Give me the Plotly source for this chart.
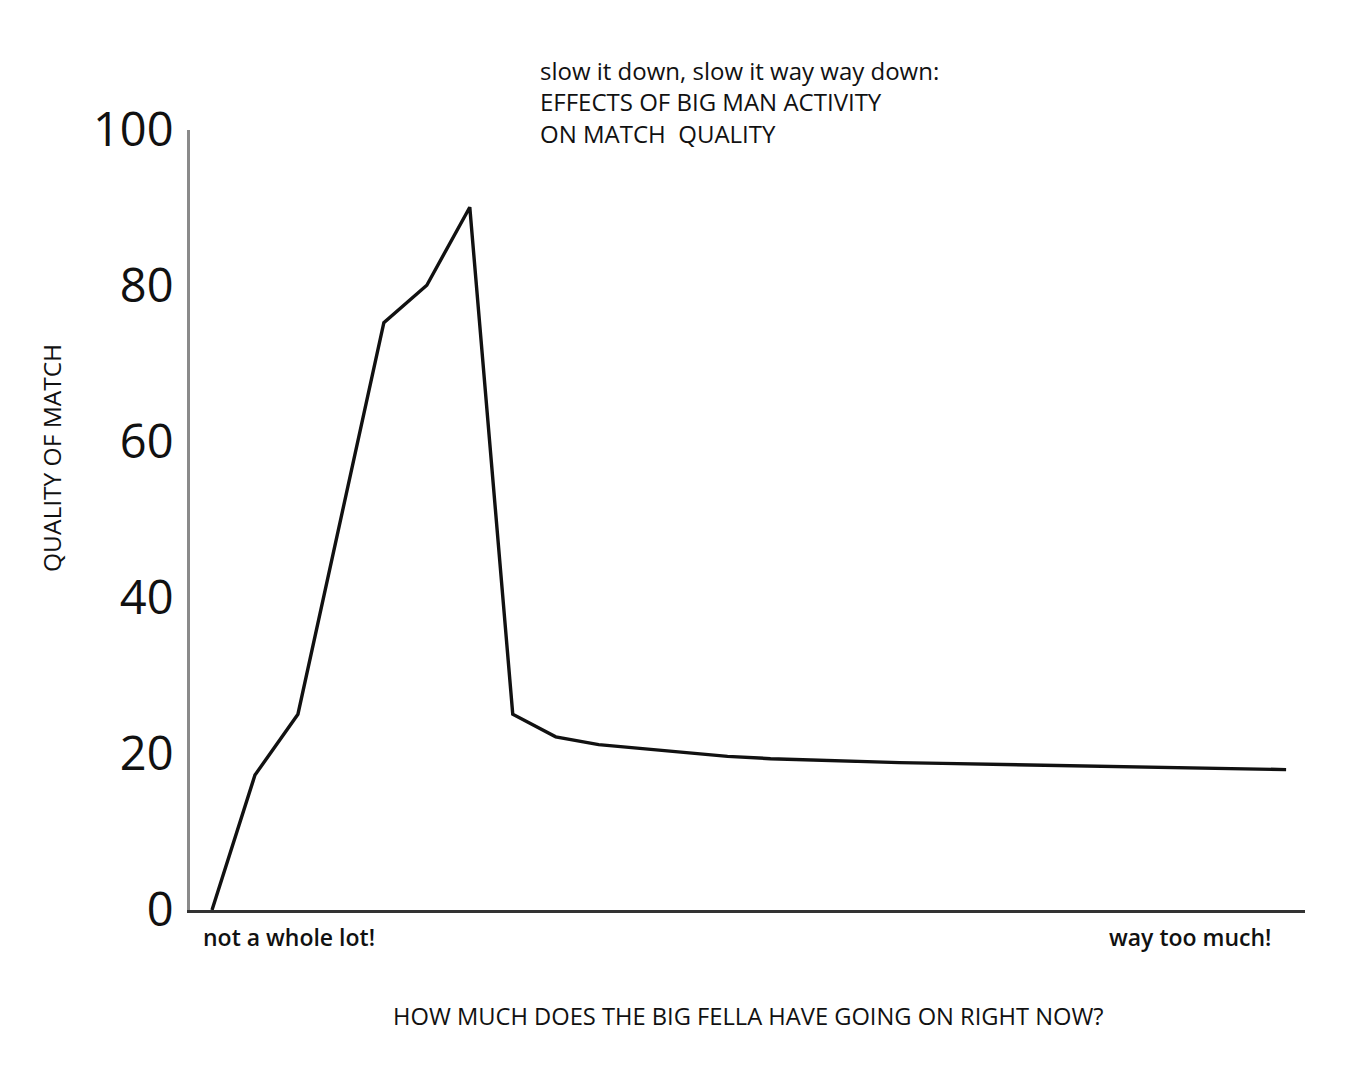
import plotly.graph_objects as go

activity = list(range(26))
quality = [0, 17.3, 25.1, 50.2, 75.3, 80.1, 90.1, 25.1, 22.2, 21.2, 20.7, 20.2,
           19.7, 19.4, 19.2, 19.0, 18.9, 18.8, 18.7, 18.6, 18.5, 18.4, 18.3, 18.2,
           18.1, 18.0]
y_ticks = [0, 20, 40, 60, 80, 100]

title_lines = ["slow it down, slow it way way down:",
               "EFFECTS OF BIG MAN ACTIVITY",
               "ON MATCH  QUALITY"]
x_low_label = "not a whole lot!"
x_high_label = "way too much!"
x_title = "HOW MUCH DOES THE BIG FELLA HAVE GOING ON RIGHT NOW?"
y_title = "QUALITY OF MATCH"

TEXT = "Open Sans, sans-serif"

fig = go.Figure()
fig.add_trace(go.Scatter(x=activity, y=quality, mode="lines",
                         line=dict(color="#111111", width=3.4),
                         hoverinfo="skip", showlegend=False))

OFF = 8  # page body margin
W, H = 1350, 1072
L, T = 190 - OFF, 130 - OFF
pw, ph = 1115, 780
R, B = W - L - pw, H - T - ph


def px(x):
    return (x - OFF - L) / pw


def py(y):
    return (T + ph - (y - OFF)) / ph


annotations = []
for i, line in enumerate(title_lines):
    annotations.append(dict(text=line, xref="paper", yref="paper",
                            x=px(538), y=py(70 + 32 * i), xanchor="left",
                            yanchor="middle", showarrow=False,
                            font=dict(family=TEXT, size=24, color="#111")))
annotations.append(dict(text=x_low_label, xref="paper", yref="paper",
                        x=px(201), y=py(937), xanchor="left", yanchor="middle",
                        showarrow=False,
                        font=dict(family=TEXT, size=23, color="#111", weight=600)))
annotations.append(dict(text=x_high_label, xref="paper", yref="paper",
                        x=px(1273), y=py(937), xanchor="right", yanchor="middle",
                        showarrow=False,
                        font=dict(family=TEXT, size=23, color="#111", weight=600)))
annotations.append(dict(text=x_title, xref="paper", yref="paper",
                        x=px(748), y=py(1016), xanchor="center", yanchor="middle",
                        showarrow=False,
                        font=dict(family=TEXT, size=23.7, color="#111")))
annotations.append(dict(text=y_title, xref="paper", yref="paper",
                        x=px(52), y=py(458), xanchor="center", yanchor="middle",
                        textangle=-90, showarrow=False,
                        font=dict(family=TEXT, size=24.5, color="#111")))

fig.update_layout(
    width=W, height=H,
    margin=dict(l=L, r=R, t=T, b=B, pad=0),
    plot_bgcolor="white", paper_bgcolor="white",
    xaxis=dict(range=[-0.512, 25.44], showgrid=False, zeroline=False,
               showticklabels=False, ticks="", showline=True,
               linecolor="#333333", linewidth=2.5, fixedrange=True),
    yaxis=dict(range=[0, 100], tickvals=y_ticks, showgrid=False,
               zeroline=False, ticks="", showline=True, linecolor="#8a8a8a",
               linewidth=3, ticklabelstandoff=4,
               tickfont=dict(family=TEXT, size=47, color="#111"),
               fixedrange=True),
    annotations=annotations,
)

fig.write_html("out.html")
